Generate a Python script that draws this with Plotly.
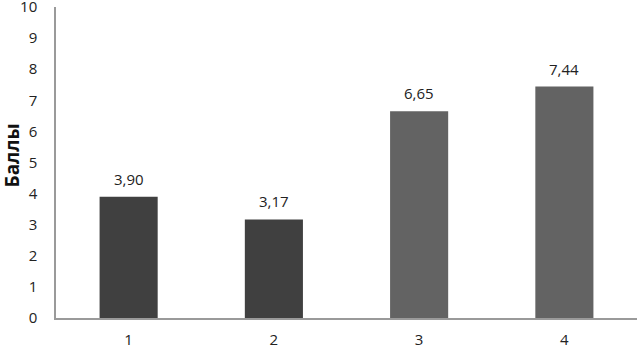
import plotly.graph_objects as go

categories = ["1", "2", "3", "4"]
values = [3.90, 3.17, 6.65, 7.44]
colors = ["#404040", "#404040", "#636363", "#636363"]
y_ticks = list(range(0, 11))
y_title = "Баллы"

fig = go.Figure()
fig.add_trace(go.Bar(x=categories, y=values, marker=dict(color=colors, line=dict(width=0)),
                     hoverinfo="skip"))
for i, v in enumerate(values):
    fig.add_annotation(x=i, y=v, text=f"{v:.2f}".replace(".", ","), showarrow=False,
                       yanchor="bottom", yshift=6,
                       font=dict(family="Open Sans", size=15, color="#222222"))

fig.add_annotation(xref="paper", yref="paper", x=0, y=0.5, xshift=-45, yshift=7,
                   text=f"<b>{y_title}</b>", textangle=-90, showarrow=False,
                   xanchor="center", yanchor="middle",
                   font=dict(family="Open Sans", size=19, color="#111111"))

fig.update_layout(
    width=637, height=347,
    margin=dict(l=56, r=0, t=7, b=29),
    paper_bgcolor="white", plot_bgcolor="white",
    bargap=0.6, showlegend=False,
    font=dict(family="Open Sans", size=15, color="#222222"),
)
fig.update_xaxes(type="category", showline=True, linecolor="#9a9a9a", linewidth=1.5, showgrid=False,
                 ticks="", ticklabelstandoff=7, tickfont=dict(size=15), automargin=False)
fig.update_yaxes(range=[0, 10], tickvals=y_ticks, showline=True, linecolor="#9a9a9a",
                 linewidth=1.5, showgrid=False, zeroline=False, ticks="", automargin=False,
                 ticklabelstandoff=14, tickfont=dict(size=15), ticklabeloverflow="allow")
fig.write_html("out.html", config={"displayModeBar": False},
               post_script="document.body.style.margin='0';document.body.style.overflow='hidden';")
